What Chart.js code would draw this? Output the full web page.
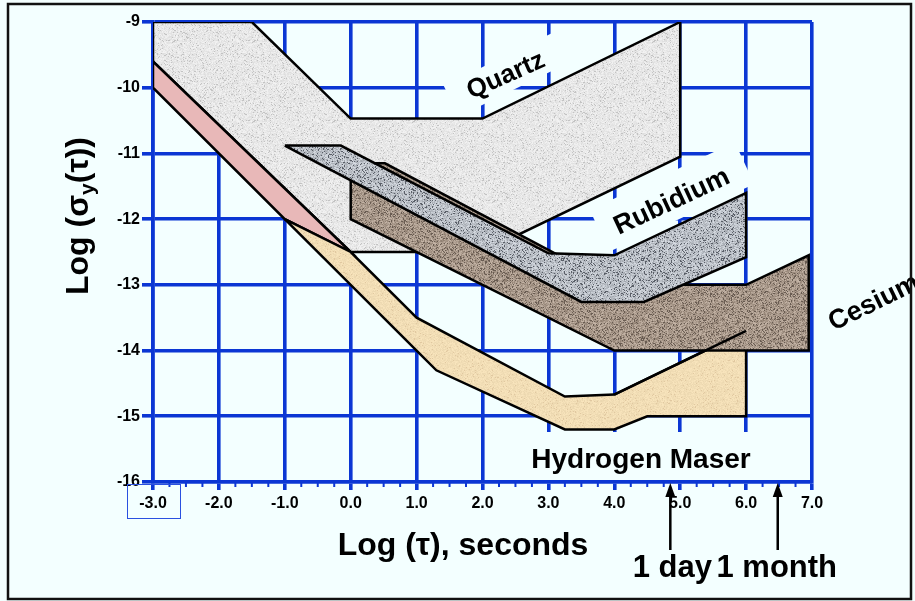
<!DOCTYPE html>
<html>
<head>
<meta charset="utf-8">
<script src="https://cdn.jsdelivr.net/npm/chart.js@4.4.0/dist/chart.umd.min.js"></script>
<style>
  html, body { margin: 0; padding: 0; background: #f3ffff; }
  canvas { display: block; }
</style>
</head>
<body>
<canvas id="stabilityChart" width="915" height="601"></canvas>
<script>
// tick values
const tauTicks = [-3, -2, -1, 0, 1, 2, 3, 4, 5, 6, 7];
const sigmaTicks = [-16, -15, -14, -13, -12, -11, -10, -9];

// region outlines as [log tau, log sigma]
const quartz = [[-3, -9], [-1.5, -9], [0, -10.47], [2, -10.47], [5, -9], [5, -11.05], [2, -12.5], [0, -12.5], [-3, -9.6], [-3, -9]];
const overlap = [[-3, -9.6], [0, -12.5], [-1, -12], [-3, -10], [-3, -9.6]];
const hMaser = [[-1, -12], [0, -12.5], [1, -13.5], [3.25, -14.7], [4, -14.67], [6, -13.7], [6, -15], [4.5, -15], [4, -15.2], [3.25, -15.2], [1.3, -14.3], [1, -14], [-1, -12]];
const hMaserEdge = [[4, -14.67], [6, -13.7]];
const cesium = [[0, -11.15], [0.52, -11.15], [4, -13], [6, -13], [6.95, -12.55], [6.95, -14], [4, -14], [0, -12], [0, -11.15]];
const rubidium = [[-1, -10.88], [-0.15, -10.88], [3, -12.52], [4, -12.55], [6, -11.6], [6, -12.58], [4.45, -13.26], [3.5, -13.26], [-1, -10.88]];

// arrow markers on the tau axis
const markerTau = [4.85, 6.48];
const markerText = ["1 day", "1 month"];

const BG = "#f3ffff";
const GRID = "#0b36d4";
const FONT = '"Liberation Sans", Arial, sans-serif';

// stone-like speckle fill
function speckle(base, amp, dark, darkP) {
    const c = document.createElement("canvas");
    c.width = c.height = 80;
    const g = c.getContext("2d");
    const img = g.createImageData(80, 80);
    let s = 2024;
    for (let i = 0; i < 80 * 80; i++) {
        s = (Math.imul(s, 1103515245) + 12345) >>> 0;
        const r = (s >>> 8) / 16777216;
        s = (Math.imul(s, 1103515245) + 12345) >>> 0;
        const r2 = (s >>> 8) / 16777216;
        let col;
        if (r2 < darkP) col = dark;
        else col = base.map(v => Math.max(0, Math.min(255, v + (r - 0.5) * amp)));
        img.data[i * 4] = col[0];
        img.data[i * 4 + 1] = col[1];
        img.data[i * 4 + 2] = col[2];
        img.data[i * 4 + 3] = 255;
    }
    g.putImageData(img, 0, 0);
    return g.createPattern(c, "repeat");
}

const ctx0 = document.getElementById("stabilityChart").getContext("2d");
const quartzFill = speckle([232, 232, 232], 22, [195, 195, 195], 0.08);
const rubidiumFill = speckle([188, 193, 200], 55, [90, 95, 104], 0.14);
const cesiumFill = speckle([170, 154, 140], 55, [105, 92, 82], 0.15);
const maserFill = speckle([242, 222, 182], 14, [225, 200, 160], 0.05);

function region(points, fill, order, width) {
    return {
        data: points.map(p => ({ x: p[0], y: p[1] })),
        showLine: true,
        fill: fill ? "shape" : false,
        backgroundColor: fill || "transparent",
        borderColor: "#000",
        borderWidth: width || 2.5,
        pointRadius: 0,
        tension: 0,
        order: order
    };
}

function box(g, cx, cy, ang, w, h) {
    g.save();
    g.translate(cx, cy);
    g.rotate(ang * Math.PI / 180);
    g.fillStyle = BG;
    g.fillRect(-w / 2, -h / 2, w, h);
    g.restore();
}

function label(g, text, cx, cy, ang, size) {
    g.save();
    g.translate(cx, cy);
    g.rotate(ang * Math.PI / 180);
    g.font = "bold " + size + "px " + FONT;
    g.fillStyle = "#000";
    g.textAlign = "center";
    g.textBaseline = "middle";
    g.fillText(text, 0, 0);
    g.restore();
}

const decor = {
    id: "decor",
    beforeDraw(chart) {
        const g = chart.ctx;
        g.save();
        g.fillStyle = BG;
        g.fillRect(0, 0, chart.width, chart.height);
        g.restore();
    },
    afterDraw(chart) {
        const g = chart.ctx;
        const xs = chart.scales.x;
        const a = chart.chartArea;

        // minor ticks on the tau axis
        g.save();
        g.strokeStyle = GRID;
        g.lineWidth = 2;
        for (let v = tauTicks[0]; v < tauTicks[tauTicks.length - 1]; v += 0.25) {
            if (Number.isInteger(v)) continue;
            const px = xs.getPixelForValue(v);
            g.beginPath();
            g.moveTo(px, a.bottom);
            g.lineTo(px, a.bottom + 5);
            g.stroke();
        }
        // thin frame around the first tick label
        g.lineWidth = 1;
        g.strokeStyle = "#2a50e0";
        g.strokeRect(127.5, 484.5, 53, 34);
        g.restore();

        // label backgrounds
        box(g, 507, 74, -26, 124, 34);
        box(g, 672, 197, -25, 160, 46);
        g.save();
        g.fillStyle = BG;
        g.fillRect(487, 432, 322, 48);
        g.restore();

        label(g, "Quartz", 506, 76, -24, 26);
        label(g, "Rubidium", 672, 202, -25, 27);
        label(g, "Cesium", 874, 303, -26, 27);

        g.save();
        g.font = "bold 28px " + FONT;
        g.fillStyle = "#000";
        g.textAlign = "center";
        g.textBaseline = "alphabetic";
        g.fillText("Hydrogen Maser", 641, 468);

        // x title
        g.font = "bold 32px " + FONT;
        g.fillText("Log (\u03c4), seconds", 463, 555);

        // arrows and their captions
        g.strokeStyle = "#000";
        g.fillStyle = "#000";
        g.lineWidth = 2.5;
        markerTau.forEach((t, i) => {
            const px = xs.getPixelForValue(t);
            g.beginPath();
            g.moveTo(px, 550);
            g.lineTo(px, 494);
            g.stroke();
            g.beginPath();
            g.moveTo(px, 483);
            g.lineTo(px - 5, 497);
            g.lineTo(px + 5, 497);
            g.closePath();
            g.fill();
            g.font = "bold 31px " + FONT;
            g.fillText(markerText[i], px + (i === 0 ? 2 : -1), 577);
        });
        g.restore();

        // y title with subscript
        g.save();
        g.translate(88, 216);
        g.rotate(-Math.PI / 2);
        g.fillStyle = "#000";
        g.textBaseline = "alphabetic";
        g.textAlign = "left";
        const big = "bold 32px " + FONT, small = "bold 21px " + FONT;
        g.font = big;
        const p1 = "Log (\u03c3", p3 = "(\u03c4))";
        const w1 = g.measureText(p1).width, w3 = g.measureText(p3).width;
        g.font = small;
        const w2 = g.measureText("y").width;
        let x0 = -(w1 + w2 + w3) / 2;
        g.font = big;
        g.fillText(p1, x0, 0);
        g.font = small;
        g.fillText("y", x0 + w1, 6);
        g.font = big;
        g.fillText(p3, x0 + w1 + w2, 0);
        g.restore();

        // outer frame
        g.save();
        g.strokeStyle = "#111";
        g.lineWidth = 2.5;
        g.strokeRect(8, 4, 903, 595);
        g.restore();
    }
};

new Chart(ctx0, {
    type: "scatter",
    data: {
        datasets: [
            region(quartz, quartzFill, 6),
            region(overlap, "#e8b8b8", 5),
            region(hMaser, maserFill, 4),
            region(cesium, cesiumFill, 3),
            region(hMaserEdge, null, 2),
            region(rubidium, rubidiumFill, 1)
        ]
    },
    options: {
        responsive: false,
        animation: false,
        layout: { padding: { top: 22, right: 103, left: 0, bottom: 0 } },
        plugins: { legend: { display: false }, tooltip: { enabled: false } },
        scales: {
            x: {
                type: "linear",
                z: 1,
                min: tauTicks[0],
                max: tauTicks[tauTicks.length - 1],
                afterBuildTicks: axis => { axis.ticks = tauTicks.map(v => ({ value: v })); },
                afterFit: axis => { axis.height = 119; },
                grid: { color: GRID, lineWidth: 3.6, tickLength: 8, tickColor: GRID },
                border: { color: GRID, width: 3.6 },
                ticks: {
                    color: "#000",
                    font: { family: FONT, size: 16, weight: "bold" },
                    padding: 4,
                    maxRotation: 0,
                    callback: v => v.toFixed(1)
                }
            },
            y: {
                type: "linear",
                z: 1,
                min: sigmaTicks[0],
                max: sigmaTicks[sigmaTicks.length - 1],
                afterBuildTicks: axis => { axis.ticks = sigmaTicks.map(v => ({ value: v })); },
                afterFit: axis => { axis.width = 153; },
                grid: { color: GRID, lineWidth: 3.6, tickLength: 11, tickColor: GRID },
                border: { color: GRID, width: 3.6 },
                ticks: {
                    color: "#000",
                    font: { family: FONT, size: 16, weight: "bold" },
                    padding: 2,
                    callback: v => String(v)
                }
            }
        }
    },
    plugins: [decor]
});
</script>
</body>
</html>
